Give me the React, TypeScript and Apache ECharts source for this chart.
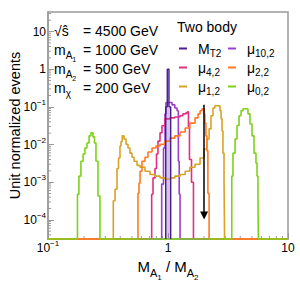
import React, { useEffect, useRef } from 'react';
import * as echarts from 'echarts';

const FONT = "'Liberation Sans', Arial, Helvetica, sans-serif";
const AXIS_GRAY = '#9a9a9a';

const X_MIN = 0.1;
const X_MAX = 10;
const Y_MIN = 3.1e-5;
const Y_MAX = 33;
const FLOOR = Y_MIN; // empty bins sit on the frame bottom

// [bin left edge, bin content]
const MT2 = [
  [0.957, FLOOR], [0.957, 0.1], [0.986, 1.0], [1.019, 0.1], [1.053, FLOOR],
];
const MU_10_2 = [
  [0.1, FLOOR],
  [0.886, 8.9e-4], [0.917, 8.1e-3], [0.944, 0.065], [0.962, 0.13], [1.08, 0.113],
  [1.14, 0.093], [1.19, 0.079], [1.22, 3.6e-3], [1.24, 4.8e-4],
  [1.26, FLOOR], [10, FLOOR],
];
const MU_4_2 = [
  [0.1, FLOOR],
  [0.731, 4.8e-4], [0.75, 1.3e-3], [0.779, 2.3e-3], [0.802, 5.6e-3], [0.825, 0.0123],
  [0.858, 0.0204], [0.891, 0.0316], [0.944, 0.048], [1.04, 0.051], [1.14, 0.054],
  [1.26, 0.058], [1.33, 0.065], [1.41, 0.069], [1.45, 0.074], [1.48, 0.03],
  [1.51, 4e-3], [1.57, 1e-3],
  [1.63, FLOOR], [10, FLOOR],
];
const MU_2_2 = [
  [0.1, FLOOR],
  [0.562, 5.1e-4], [0.573, 9.3e-4], [0.585, 1.95e-3], [0.607, 3.6e-3], [0.643, 4.6e-3],
  [0.681, 6.3e-3], [0.736, 8.1e-3], [0.794, 9.1e-3], [0.858, 0.0102], [0.944, 0.0123],
  [1.04, 0.0148], [1.14, 0.017], [1.26, 0.0215], [1.39, 0.0275], [1.52, 0.037],
  [1.68, 0.051], [1.78, 0.065], [1.85, 0.079], [1.92, 0.089], [2.0, 0.065],
  [2.03, 0.037], [2.07, 0.017], [2.11, 6.8e-3], [2.15, 5.1e-4],
  [2.2, FLOOR], [10, FLOOR],
];
const MU_1_2 = [
  [0.1, FLOOR],
  [0.35, 3.2e-4], [0.362, 6.5e-4], [0.376, 2.3e-3], [0.387, 4.4e-3], [0.398, 9.1e-3],
  [0.406, 0.012], [0.416, 0.017], [0.43, 0.014], [0.447, 0.0102], [0.464, 8.1e-3],
  [0.482, 5.9e-3], [0.501, 4.6e-3], [0.521, 3.6e-3], [0.552, 2.8e-3], [0.585, 2.5e-3],
  [0.643, 1.95e-3], [0.708, 1.6e-3], [0.779, 1.45e-3], [0.858, 1.3e-3], [0.944, 1.2e-3],
  [1.04, 1.3e-3], [1.14, 1.45e-3], [1.26, 1.6e-3], [1.39, 1.95e-3], [1.52, 2.5e-3],
  [1.68, 3.0e-3], [1.85, 4.4e-3], [2.0, 7.6e-3], [2.11, 0.014], [2.2, 0.026],
  [2.28, 0.058], [2.37, 0.093], [2.46, 0.107], [2.71, 0.079], [2.77, 0.048],
  [2.82, 0.023], [2.87, 5.9e-3], [2.93, 1.2e-3],
  [2.96, FLOOR], [10, FLOOR],
];
const MU_0_2 = [
  [0.1, FLOOR],
  [0.176, 4.8e-4], [0.181, 1.45e-3], [0.188, 3.6e-3], [0.196, 5.6e-3], [0.203, 8.1e-3],
  [0.211, 0.011], [0.22, 0.017], [0.228, 0.0204], [0.237, 0.016], [0.244, 0.011],
  [0.251, 3.6e-3], [0.261, 4.3e-4],
  [0.271, FLOOR],
  [3.4, 1.45e-3], [3.48, 5.9e-3], [3.62, 0.014], [3.76, 0.032], [3.91, 0.058],
  [4.06, 0.079], [4.22, 0.089], [4.47, 0.087], [4.64, 0.065], [4.82, 0.035],
  [5.01, 0.017], [5.21, 5.9e-3], [5.41, 3.2e-3], [5.52, 1.45e-3], [5.62, 4.3e-4],
  [5.66, FLOOR], [10, FLOOR],
];

const TRUE_RATIO = 2.0;
const ARROW_TOP = 0.113;
const ARROW_END = 1.3e-4;

const COLORS = {
  MT2: '#4b1d8c',
  'μ10,2': '#9b3fd0',
  'μ4,2': '#e2307f',
  'μ2,2': '#ff7a26',
  'μ1,2': '#d9a326',
  'μ0,2': '#7fd11b',
};
const LEGEND_TEXT: Record<string, [string, string]> = {
  MT2: ['M', 'T2'],
  'μ10,2': ['μ', '10,2'],
  'μ4,2': ['μ', '4,2'],
  'μ2,2': ['μ', '2,2'],
  'μ1,2': ['μ', '1,2'],
  'μ0,2': ['μ', '0,2'],
};
const LEGEND_COL1 = ['MT2', 'μ4,2', 'μ1,2'];
const LEGEND_COL2 = ['μ10,2', 'μ2,2', 'μ0,2'];

const ANNOT_LABELS = ['{m|√ŝ}', '{m|m}{s|A}{ss|1}', '{m|m}{s|A}{ss|2}', '{m|m}{s|χ}'];
const ANNOT_VALUES = ['= 4500 GeV', '= 1000 GeV', '= 500 GeV', '= 200 GeV'];
const ANNOT_ROWS = [31, 50, 69, 88];

const MINOR_STEPS = [2, 3, 4, 5, 6, 7, 8, 9];
const X_DECADES = [0.1, 1];
const Y_DECADES = [1e-5, 1e-4, 1e-3, 1e-2, 0.1, 1, 10];

function xTickLabel(v: number) {
  const e = Math.round(Math.log10(v));
  if (e === 0) return '{p|1}';
  if (e === 1) return '{p|10}';
  return `{b|10}{s|−${-e}}`;
}
function yTickLabel(v: number) {
  const e = Math.round(Math.log10(v));
  if (e === 0) return '{b|1}';
  if (e === 1) return '{b|10}';
  return `{b|10}{s|−${-e}}`;
}
const tickRich = {
  b: { fontSize: 12, lineHeight: 12, fontFamily: FONT, color: '#000' },
  s: { fontSize: 8, lineHeight: 9, padding: [0, 0, 9, 0], fontFamily: FONT, color: '#000' },
  p: { fontSize: 12, lineHeight: 12, padding: [3, 0, 3, 0], fontFamily: FONT, color: '#000' },
};
const subRich = (main: number, sub: number, subsub: number) => ({
  m: { fontSize: main, lineHeight: main, verticalAlign: 'top', fontFamily: FONT, color: '#000' },
  s: { fontSize: sub, lineHeight: sub, verticalAlign: 'top', padding: [Math.round(main * 0.5), 0, 0, 0], fontFamily: FONT, color: '#000' },
  ss: { fontSize: subsub, lineHeight: subsub, verticalAlign: 'top', padding: [Math.round(main * 0.93), 0, 0, 0], fontFamily: FONT, color: '#000' },
});
const legendRich = {
  a: { fontSize: 14, lineHeight: 14, verticalAlign: 'top', padding: [0, 0, 0, 6], fontFamily: FONT, color: '#000' },
  b: { fontSize: 10, lineHeight: 10, verticalAlign: 'top', padding: [7, 0, 0, 0], fontFamily: FONT, color: '#000' },
};

function buildOption() {
  const minorData: number[][] = [];
  X_DECADES.forEach((d) => MINOR_STEPS.forEach((m) => minorData.push([m * d, Y_MIN, 0])));
  Y_DECADES.forEach((d) =>
    MINOR_STEPS.forEach((m) => {
      const v = m * d;
      if (v > Y_MIN && v < Y_MAX) minorData.push([X_MIN, v, 1]);
    })
  );

  const hist = (name: string, data: number[][], extra: any = {}) => ({
    type: 'line',
    name,
    data,
    step: 'end',
    symbol: 'none',
    showSymbol: false,
    clip: false,
    lineStyle: { color: (COLORS as any)[name], width: 1.6 },
    itemStyle: { color: (COLORS as any)[name] },
    ...extra,
  });

  const legendBase = {
    orient: 'vertical',
    top: 41.5,
    itemGap: 2,
    itemWidth: 8,
    itemHeight: 2,
    icon: 'rect',
    padding: 0,
    selectedMode: false,
    formatter: (n: string) => `{a|${LEGEND_TEXT[n][0]}}{b|${LEGEND_TEXT[n][1]}}`,
    textStyle: { rich: legendRich, fontFamily: FONT },
  };

  const annotRich = subRich(14, 10, 7);
  const graphics: any[] = [
    {
      type: 'text',
      x: 177,
      y: 27,
      style: { text: 'Two body', font: `14px ${FONT}`, fill: '#000', verticalAlign: 'middle' },
    },
  ];
  ANNOT_LABELS.forEach((t, i) => {
    graphics.push({
      type: 'text',
      x: 54,
      y: ANNOT_ROWS[i] - 7,
      style: { text: t, rich: annotRich, verticalAlign: 'top', fill: '#000', font: `14px ${FONT}` },
    });
    graphics.push({
      type: 'text',
      x: 83,
      y: ANNOT_ROWS[i],
      style: { text: ANNOT_VALUES[i], font: `14px ${FONT}`, fill: '#000', verticalAlign: 'middle' },
    });
  });

  return {
    animation: false,
    grid: {
      left: 48,
      right: 12,
      top: 12,
      bottom: 46,
      containLabel: false,
      outerBoundsMode: 'none',
      show: true,
      borderColor: AXIS_GRAY,
      borderWidth: 1.5,
    },
    xAxis: {
      type: 'log',
      logBase: 10,
      min: X_MIN,
      max: X_MAX,
      axisLine: { lineStyle: { color: AXIS_GRAY, width: 1.5 } },
      axisTick: { inside: true, length: 6, lineStyle: { color: AXIS_GRAY } },
      axisLabel: { formatter: xTickLabel, rich: tickRich, margin: 3, showMinLabel: true, showMaxLabel: true },
      splitLine: { show: false },
      name: '{m|M}{s|A}{ss|1}{m| / M}{s|A}{ss|2}',
      nameLocation: 'middle',
      nameGap: 20,
      nameMoveOverlap: false,
      nameTextStyle: { rich: subRich(15, 11, 8) },
    },
    yAxis: {
      type: 'log',
      logBase: 10,
      min: Y_MIN,
      max: Y_MAX,
      axisLine: { lineStyle: { color: AXIS_GRAY, width: 1.5 } },
      axisTick: { inside: true, length: 6, lineStyle: { color: AXIS_GRAY } },
      axisLabel: { formatter: yTickLabel, rich: tickRich, margin: 2, showMinLabel: false, showMaxLabel: false },
      splitLine: { show: false },
      name: 'Unit normalized events',
      nameLocation: 'middle',
      nameGap: 26,
      nameMoveOverlap: false,
      nameTextStyle: { fontSize: 14.5, fontFamily: FONT, color: '#000' },
    },
    legend: [
      { ...legendBase, left: 179, data: LEGEND_COL1 },
      { ...legendBase, left: 228, data: LEGEND_COL2 },
    ],
    graphic: graphics,
    series: [
      {
        type: 'custom',
        name: 'minorTicks',
        silent: true,
        clip: false,
        data: minorData,
        encode: { x: 0, y: 1 },
        renderItem: (_p: any, api: any) => {
          const pt = api.coord([api.value(0), api.value(1)]);
          const vertical = api.value(2) === 0;
          return {
            type: 'line',
            shape: vertical
              ? { x1: pt[0], y1: pt[1], x2: pt[0], y2: pt[1] - 3 }
              : { x1: pt[0], y1: pt[1], x2: pt[0] + 3, y2: pt[1] },
            style: { stroke: AXIS_GRAY, lineWidth: 1 },
          };
        },
      },
      hist('μ10,2', MU_10_2),
      hist('μ4,2', MU_4_2),
      hist('μ1,2', MU_1_2),
      hist('μ2,2', MU_2_2),
      hist('μ0,2', MU_0_2),
      hist('MT2', MT2, {
        z: 3,
        lineStyle: { color: COLORS.MT2, width: 1.4 },
        areaStyle: { color: '#9a7bd0', opacity: 0.45, origin: 'start' },
      }),
      {
        type: 'line',
        name: 'truth',
        data: [[TRUE_RATIO, ARROW_TOP]],
        symbol: 'none',
        lineStyle: { width: 0 },
        z: 4,
        markLine: {
          silent: true,
          symbol: ['none', 'triangle'],
          symbolSize: 8,
          label: { show: false },
          lineStyle: { color: '#000', width: 1.5, type: 'solid' },
          data: [[{ coord: [TRUE_RATIO, ARROW_TOP] }, { coord: [TRUE_RATIO, ARROW_END] }]],
        },
      },
    ],
  };
}

export default function App() {
  const ref = useRef<HTMLDivElement>(null);
  useEffect(() => {
    const chart = echarts.init(ref.current!, null, { renderer: 'svg' });
    chart.setOption(buildOption() as any);
    return () => chart.dispose();
  }, []);
  return (
    <div
      ref={ref}
      style={{ position: 'fixed', left: 0, top: 0, width: 300, height: 285, background: '#fff' }}
    />
  );
}
